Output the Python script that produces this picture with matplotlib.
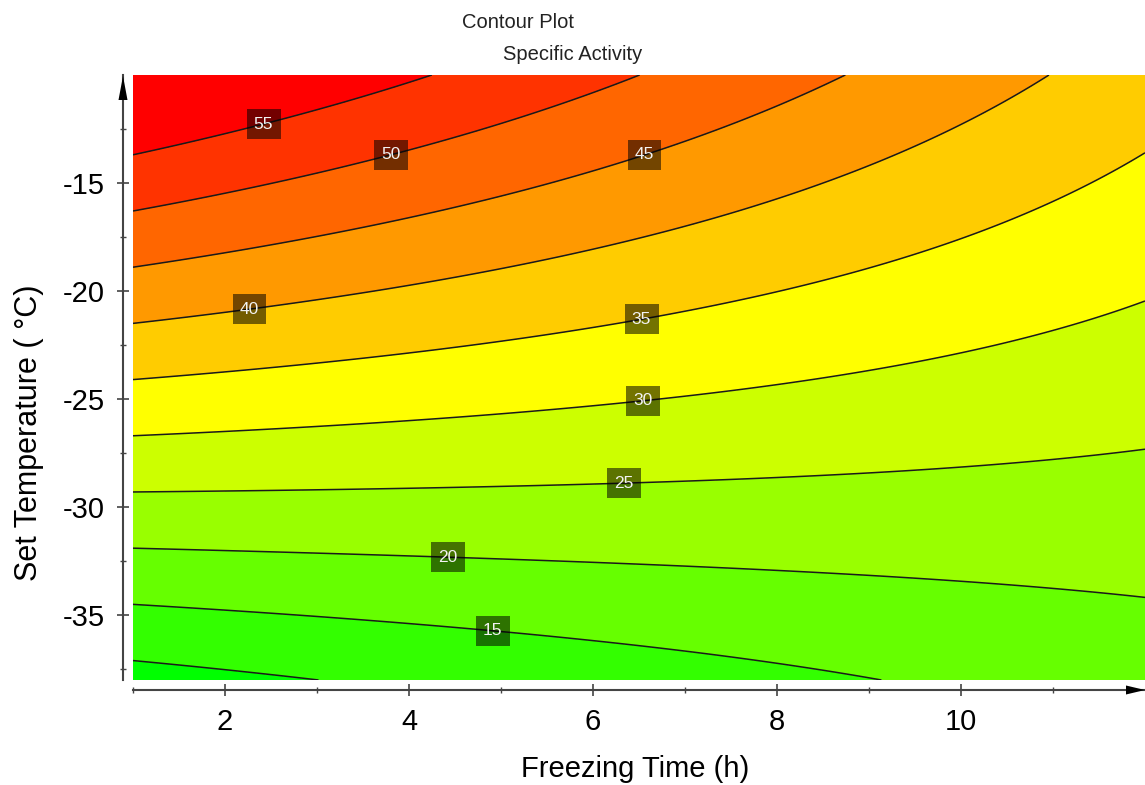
import numpy as np
import matplotlib
matplotlib.use("Agg")
import matplotlib.pyplot as plt
from matplotlib.patches import Polygon
from matplotlib.ticker import FixedLocator

plt.rcParams["font.family"] = ["Liberation Sans", "DejaVu Sans"]
plt.rcParams["axes.unicode_minus"] = False

# Factor ranges
freeze_time_range = [1.0, 12.0]        # h
set_temp_range = [-38.0, -10.0]        # deg C

# Quadratic response-surface model for Specific Activity
# terms: intercept, A (time), B (temp), AB, A^2, B^2
coef_terms = ["1", "A", "B", "AB", "A2", "B2"]
coef_values = [84.575, -3.245, 2.031, -0.1085, -0.005, 0.0]

# Contour levels and band colours (low -> high, including under/over bands)
levels = [10, 15, 20, 25, 30, 35, 40, 45, 50, 55]
band_colors = ["#00FF00", "#33FF00", "#66FF00", "#99FF00", "#CCFF00", "#FFFF00",
               "#FFCC00", "#FF9900", "#FF6600", "#FF3300", "#FF0000"]

# Where the contour labels sit (time, temperature)
label_levels = [15, 20, 25, 30, 35, 40, 45, 50, 55]
label_time = [4.91, 4.42, 6.34, 6.54, 6.53, 2.27, 6.56, 3.81, 2.43]
label_temp = [-35.79, -32.40, -29.01, -25.12, -21.36, -20.94, -13.70, -13.84, -12.45]

x_major = [2, 4, 6, 8, 10]
x_minor = [1, 3, 5, 7, 9, 11]
y_major = [-35, -30, -25, -20, -15]
y_minor = [-37.5, -32.5, -27.5, -22.5, -17.5, -12.5]

W, H = 1145, 785
fig = plt.figure(figsize=(W / 100, H / 100), dpi=100)
ax = fig.add_axes([133 / W, 1 - 680 / H, (1145 - 133) / W, (680 - 75) / H])

A, B = np.meshgrid(np.linspace(*freeze_time_range, 500), np.linspace(*set_temp_range, 500))
c = dict(zip(coef_terms, coef_values))
Z = c["1"] + c["A"] * A + c["B"] * B + c["AB"] * A * B + c["A2"] * A ** 2 + c["B2"] * B ** 2

ax.contourf(A, B, Z, levels=levels, colors=band_colors, extend="both")
ax.contour(A, B, Z, levels=levels, colors="#1a1a1a", linewidths=1.1)

# Labelled levels: an invisible contour set carries the value boxes
cs_lab = ax.contour(A, B, Z, levels=label_levels, colors="none", linewidths=0)
texts = ax.clabel(cs_lab, inline=False, fmt="%d", fontsize=12.5, colors="white",
                  manual=list(zip(label_time, label_temp)))
for t in texts:
    t.set_rotation(0)
    t.set_color("#f2f2f2")
    t.set_alpha(1)
    t.set_bbox(dict(boxstyle="square,pad=0.42", fc=(0, 0, 0, 0.55), ec="none"))

ax.set_xlim(freeze_time_range)
ax.set_ylim(set_temp_range)

# Axis spines drawn slightly away from the plot area, with arrow heads
for side in ("top", "right"):
    ax.spines[side].set_visible(False)
for side in ("left", "bottom"):
    ax.spines[side].set_position(("outward", 7.2))
    ax.spines[side].set_color("#444444")
    ax.spines[side].set_linewidth(1.5)

ax.xaxis.set_major_locator(FixedLocator(x_major))
ax.xaxis.set_minor_locator(FixedLocator(x_minor))
ax.yaxis.set_major_locator(FixedLocator(y_major))
ax.yaxis.set_minor_locator(FixedLocator(y_minor))
ax.tick_params(which="major", direction="inout", length=8.6, width=1.2, color="#444444",
               labelsize=21, pad=9)
ax.tick_params(which="minor", direction="inout", length=5, width=1.0, color="#444444")


def fpx(xp, yp):
    return (xp / W, 1 - yp / H)


fig.patches.append(Polygon([fpx(123, 76), fpx(118.5, 100), fpx(127.5, 100)], closed=True,
                           transform=fig.transFigure, fc="black", ec="none"))
fig.patches.append(Polygon([fpx(1145, 690), fpx(1126, 685.5), fpx(1126, 694.5)], closed=True,
                           transform=fig.transFigure, fc="black", ec="none"))

fig.text(*fpx(635, 769), "Freezing Time (h)", fontsize=21, ha="center", va="center")
fig.text(*fpx(29, 433), "Set Temperature ( °C)", fontsize=22, rotation=90,
         ha="center", va="center")
fig.text(*fpx(462, 22), "Contour Plot", fontsize=14.5, ha="left", va="center", color="#222222")
fig.text(*fpx(503, 55), "Specific Activity", fontsize=14.5, ha="left", va="center", color="#222222")

fig.savefig("out.png", dpi=100)
